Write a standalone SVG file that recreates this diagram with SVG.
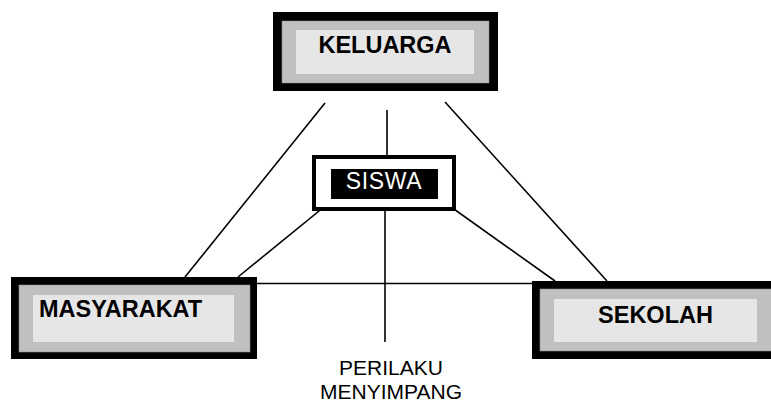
<svg xmlns="http://www.w3.org/2000/svg" width="771" height="404" viewBox="0 0 771 404">
  <style>
    .frame { fill: #000000; }
    .band { fill: #c0c0c0; stroke: #8c8c8c; stroke-width: 0.6; }
    .face { fill: #e6e6e6; }
    .label { font-family: "Liberation Sans", Arial, sans-serif; font-weight: bold; font-size: 23.5px; fill: #000000; }
    .plain { font-family: "Liberation Sans", Arial, sans-serif; font-size: 21px; fill: #000000; }
    .link { stroke: #000000; stroke-width: 1.6; fill: none; }
  </style>
  <rect width="771" height="404" fill="#ffffff"/>

  <!-- connectors -->
  <g id="connectors">
    <line class="link" x1="325" y1="103" x2="185" y2="277"/>
    <line class="link" x1="445" y1="102" x2="607" y2="281"/>
    <line class="link" x1="387" y1="110" x2="387" y2="156"/>
    <line class="link" x1="335" y1="198" x2="238" y2="277"/>
    <line class="link" x1="437" y1="197" x2="555" y2="281"/>
    <line class="link" x1="257" y1="283.5" x2="533" y2="283.5"/>
    <line class="link" x1="385" y1="199" x2="385" y2="342"/>
  </g>

  <!-- family -->
  <g id="keluarga">
    <rect class="frame" x="273" y="12" width="225" height="79"/>
    <rect class="band" x="282" y="21" width="207" height="62"/>
    <rect class="face" x="296" y="30" width="178" height="44"/>
    <text class="label" x="385" y="53" text-anchor="middle">KELUARGA</text>
  </g>

  <!-- student -->
  <g id="siswa">
    <rect x="314" y="157" width="140" height="52" fill="#ffffff" stroke="#000000" stroke-width="4"/>
    <rect x="331" y="169" width="107" height="30" fill="#000000"/>
    <text x="384" y="189" text-anchor="middle" font-family="Liberation Sans, Arial, sans-serif" font-size="23" letter-spacing="0.6" fill="#ffffff">SISWA</text>
  </g>

  <!-- community -->
  <g id="masyarakat">
    <rect class="frame" x="11" y="277" width="246" height="82"/>
    <rect class="band" x="19" y="285" width="231" height="67"/>
    <rect class="face" x="33" y="295" width="201" height="47"/>
    <text class="label" x="39" y="317">MASYARAKAT</text>
  </g>

  <!-- school -->
  <g id="sekolah">
    <rect class="frame" x="532" y="281" width="260" height="78"/>
    <rect class="band" x="540" y="289" width="250" height="62"/>
    <rect class="face" x="554" y="299" width="203" height="43"/>
    <text class="label" x="655.5" y="323" text-anchor="middle">SEKOLAH</text>
  </g>

  <!-- outcome -->
  <g id="perilaku">
    <text class="plain" x="391" y="375" text-anchor="middle">PERILAKU</text>
    <text class="plain" x="391" y="398.5" text-anchor="middle">MENYIMPANG</text>
  </g>
</svg>
